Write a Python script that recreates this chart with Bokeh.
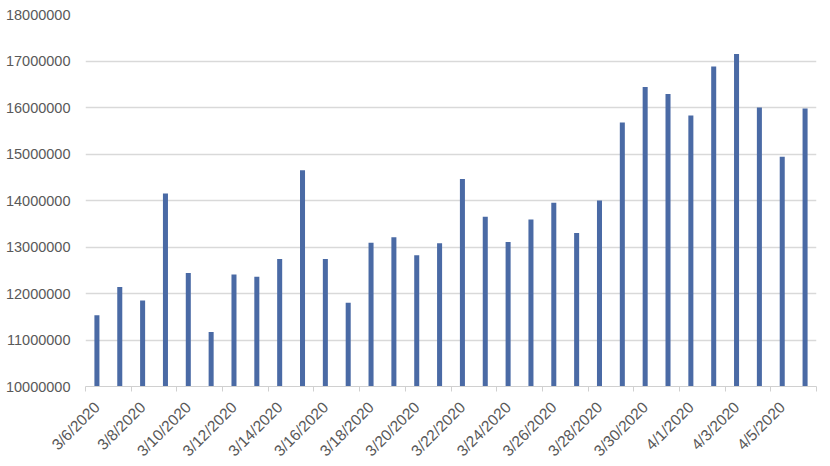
import math
from bokeh.plotting import figure
from bokeh.models import FixedTicker, Range1d, NumeralTickFormatter, ColumnDataSource
from bokeh.embed import file_html
from bokeh.resources import INLINE

dates = ["3/6/2020", "3/7/2020", "3/8/2020", "3/9/2020", "3/10/2020", "3/11/2020",
         "3/12/2020", "3/13/2020", "3/14/2020", "3/15/2020", "3/16/2020", "3/17/2020",
         "3/18/2020", "3/19/2020", "3/20/2020", "3/21/2020", "3/22/2020", "3/23/2020",
         "3/24/2020", "3/25/2020", "3/26/2020", "3/27/2020", "3/28/2020", "3/29/2020",
         "3/30/2020", "3/31/2020", "4/1/2020", "4/2/2020", "4/3/2020", "4/4/2020",
         "4/5/2020", "4/6/2020"]
values = [11530000, 12140000, 11850000, 14150000, 12440000, 11170000,
          12410000, 12360000, 12740000, 14650000, 12740000, 11800000,
          13090000, 13210000, 12820000, 13080000, 14460000, 13650000,
          13110000, 13590000, 13950000, 13300000, 14000000, 15680000,
          16440000, 16290000, 15830000, 16880000, 17150000, 16000000,
          14940000, 15980000]
y_ticks = [10000000, 11000000, 12000000, 13000000, 14000000, 15000000,
           16000000, 17000000, 18000000]

idx = list(range(len(dates)))
src = ColumnDataSource(dict(x=idx, top=values))

p = figure(frame_width=731, frame_height=372, output_backend="svg", toolbar_location=None,
           x_range=Range1d(-0.5, len(dates) - 0.5),
           y_range=Range1d(y_ticks[0], y_ticks[-1]),
           min_border_left=85, min_border_right=4, min_border_top=14, min_border_bottom=60)
p.outline_line_color = None
p.background_fill_color = "white"
p.border_fill_color = "white"

p.vbar(x="x", top="top", bottom=y_ticks[0], width=0.22, source=src,
       fill_color="#4a6aa5", line_color=None)

label_font = "Liberation Sans"
txt = "#595959"

# x axis
major = [i for i in idx if i % 2 == 0]
minor = [i - 0.5 for i in idx if i % 2 == 0] + [len(dates) - 0.5]
p.xaxis.ticker = FixedTicker(ticks=major, minor_ticks=minor)
p.xaxis.major_label_overrides = {i: dates[i] for i in major}
p.xaxis.major_label_orientation = math.pi / 4
p.xaxis.major_tick_line_color = None
p.xaxis.major_tick_out = 0
p.xaxis.major_tick_in = 0
p.xaxis.minor_tick_line_color = "#d0d0d0"
p.xaxis.minor_tick_out = 5
p.xaxis.minor_tick_in = 0
p.xaxis.axis_line_color = "#d0d0d0"
p.xaxis.major_label_text_font = label_font
p.xaxis.major_label_text_font_size = "15.5px"
p.xaxis.major_label_text_color = txt
p.xaxis.major_label_standoff = 13

# y axis
p.yaxis.ticker = FixedTicker(ticks=y_ticks)
p.yaxis.formatter = NumeralTickFormatter(format="0")
p.yaxis.axis_line_color = None
p.yaxis.major_tick_line_color = None
p.yaxis.major_tick_out = 0
p.yaxis.major_tick_in = 0
p.yaxis.minor_tick_line_color = None
p.yaxis.major_label_text_font = label_font
p.yaxis.major_label_text_font_size = "14.5px"
p.yaxis.major_label_text_color = txt
p.yaxis.major_label_standoff = 15

p.xgrid.grid_line_color = None
p.ygrid.grid_line_color = "#d9d9d9"
p.ygrid.grid_line_width = 1.5

open("out.html", "w").write(file_html(p, INLINE))
